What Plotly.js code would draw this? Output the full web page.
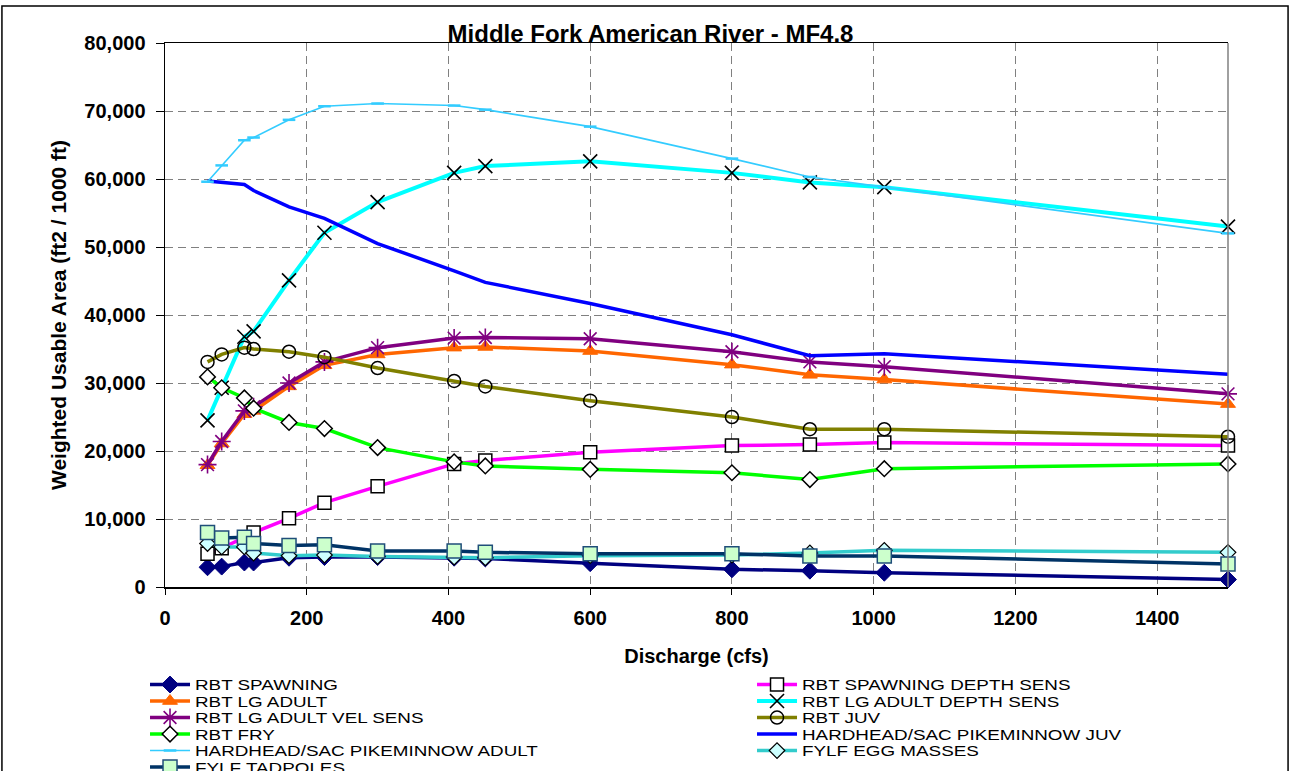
<!DOCTYPE html>
<html><head><meta charset="utf-8">
<script src="https://cdn.plot.ly/plotly-3.0.1.min.js"></script>
<style>
html,body{margin:0;padding:0;background:#fff}
#chart{width:1292px;height:771px}
#chart .legendtext{transform:scaleX(1.3);transform-box:fill-box;transform-origin:0 50%;}
</style>
</head><body><div id="chart"></div>
<script>
// Discharge (cfs)
const discharge = [60, 80, 112, 125, 175, 225, 300, 408, 452, 600, 800, 910, 1015, 1500];

// Weighted Usable Area (ft2 / 1000 ft)
const rbtSpawning          = [2900, 3000, 3600, 3600, 4300, 4400, 4400, 4300, 4200, 3500, 2600, 2400, 2100, 1100];
const rbtSpawningDepthSens = [4900, 5700, 7300, 8000, 10100, 12400, 14800, 18100, 18600, 19800, 20800, 20950, 21250, 20800];
const rbtLgAdult           = [17900, 21100, 25400, 25900, 29500, 32600, 34200, 35200, 35300, 34700, 32700, 31200, 30500, 26900];
const rbtLgAdultDepthSens  = [24500, 29300, 36800, 37600, 45100, 52100, 56600, 60900, 61900, 62600, 60900, 59500, 58800, 53000];
const rbtLgAdultVelSens    = [18000, 21400, 25900, 26500, 30000, 33100, 35200, 36600, 36700, 36500, 34600, 33100, 32400, 28400];
const rbtJuv               = [33100, 34200, 35200, 35000, 34600, 33800, 32200, 30300, 29500, 27400, 25000, 23200, 23200, 22100];
const rbtFry               = [30900, 29300, 27800, 26300, 24200, 23300, 20500, 18400, 17800, 17300, 16800, 15800, 17400, 18100];
const hardheadJuv          = [59700, 59500, 59200, 58300, 55900, 54200, 50500, 46500, 44800, 41700, 37100, 34000, 34300, 31300];
const hardheadAdult        = [59600, 62000, 65700, 66100, 68700, 70700, 71100, 70800, 70200, 67700, 63000, 60300, 58800, 52000];
const fylfEggMasses        = [6400, 5900, 5900, 5000, 4600, 4700, 4500, 4400, 4300, 4600, 4700, 5000, 5400, 5100];
const fylfTadpoles         = [8000, 7200, 7300, 6400, 6100, 6200, 5300, 5300, 5100, 4900, 4900, 4550, 4550, 3400];

const seriesNames = [
  'RBT SPAWNING', 'RBT SPAWNING DEPTH SENS', 'RBT LG ADULT', 'RBT LG ADULT DEPTH SENS',
  'RBT LG ADULT VEL SENS', 'RBT JUV', 'RBT FRY', 'HARDHEAD/SAC PIKEMINNOW JUV',
  'HARDHEAD/SAC PIKEMINNOW ADULT', 'FYLF EGG MASSES', 'FYLF TADPOLES'
];
const seriesValues = [
  rbtSpawning, rbtSpawningDepthSens, rbtLgAdult, rbtLgAdultDepthSens,
  rbtLgAdultVelSens, rbtJuv, rbtFry, hardheadJuv, hardheadAdult, fylfEggMasses, fylfTadpoles
];

const styles = [
  {line: {color: '#000080', width: 3.5}, marker: {symbol: 'diamond', size: 13, color: '#000080', line: {color: '#000080', width: 1}}},
  {line: {color: '#FF00FF', width: 3.5}, marker: {symbol: 'square', size: 13, color: '#FFFFFF', line: {color: '#000000', width: 1.5}}},
  {line: {color: '#FF6600', width: 3.5}, marker: {symbol: 'triangle-up', size: 13, color: '#FF6600', line: {color: '#FF6600', width: 1}}},
  {line: {color: '#00FFFF', width: 4}, marker: {symbol: 'x-thin-open', size: 14, color: '#000000', line: {color: '#000000', width: 1.6}}},
  {line: {color: '#800080', width: 3.5}, marker: {symbol: 'asterisk-open', size: 15, color: '#800080', line: {color: '#800080', width: 1.6}}},
  {line: {color: '#808000', width: 3.5}, marker: {symbol: 'circle-open', size: 13, color: '#000000', line: {color: '#000000', width: 1.5}}},
  {line: {color: '#00FF00', width: 3.5}, marker: {symbol: 'diamond', size: 12, color: '#FFFFFF', line: {color: '#000000', width: 1.5}}},
  {line: {color: '#0000FF', width: 3.5}, mode: 'lines'},
  {line: {color: '#33CCFF', width: 1.6}, marker: {symbol: 'line-ew-open', size: 9, color: '#33CCFF', line: {color: '#33CCFF', width: 2.5}}},
  {line: {color: '#33CCCC', width: 3.5}, marker: {symbol: 'diamond', size: 12, color: '#CCFFFF', line: {color: '#000000', width: 1.2}}},
  {line: {color: '#003366', width: 3.5}, marker: {symbol: 'square', size: 14, color: '#CCFFCC', line: {color: '#1F4E79', width: 1.5}}}
];

const data = seriesNames.map((name, i) => Object.assign({
  type: 'scatter',
  mode: 'lines+markers',
  name: name,
  x: discharge,
  y: seriesValues[i],
  cliponaxis: false
}, styles[i]));

const FONT = 'Liberation Sans, Arial, sans-serif';
const layout = {
  width: 1292, height: 771,
  paper_bgcolor: '#FFFFFF', plot_bgcolor: '#FFFFFF',
  margin: {l: 165, r: 64, t: 43, b: 184, autoexpand: false},
  font: {family: FONT, color: '#000000'},
  title: {
    text: 'Middle Fork American River - MF4.8',
    font: {family: FONT, size: 24, weight: 'bold', color: '#000000'},
    xref: 'container', x: 0.5035, xanchor: 'center',
    yref: 'container', y: 0.9565, yanchor: 'middle'
  },
  xaxis: {
    range: [0, 1500], dtick: 200, tick0: 0,
    showgrid: true, gridcolor: '#808080', griddash: '8px,5px', gridwidth: 1,
    zeroline: false,
    showline: true, linecolor: '#000000', linewidth: 1.5, mirror: true,
    ticks: 'outside', ticklen: 6, tickcolor: '#000000', tickwidth: 1,
    ticklabelstandoff: 6,
    tickfont: {family: FONT, size: 20, weight: 'bold', color: '#000000'},
    title: {text: 'Discharge (cfs)', font: {family: FONT, size: 20, weight: 'bold'}, standoff: 21}
  },
  yaxis: {
    range: [0, 80000], dtick: 10000, tick0: 0, tickformat: ',d',
    showgrid: true, gridcolor: '#808080', griddash: '8px,5px', gridwidth: 1,
    zeroline: false,
    showline: true, linecolor: '#000000', linewidth: 1.5,
    ticks: 'outside', ticklen: 8, tickcolor: '#000000', tickwidth: 1,
    ticklabelstandoff: 6,
    tickfont: {family: FONT, size: 20, weight: 'bold', color: '#000000'},
    title: {text: 'Weighted Usable Area (ft2 / 1000 ft)', font: {family: FONT, size: 21, weight: 'bold'}, standoff: 12}
  },
  showlegend: true,
  legend: {
    orientation: 'h', traceorder: 'normal',
    xref: 'paper', yref: 'paper',
    x: -0.0188, xanchor: 'left', y: -0.150, yanchor: 'top',
    entrywidth: 552, entrywidthmode: 'pixels',
    itemwidth: 40,
    bgcolor: 'rgba(0,0,0,0)', borderwidth: 0,
    font: {family: FONT, size: 14.5, color: '#000000'}
  },
  shapes: [
    {type: 'line', xref: 'paper', yref: 'paper', x0: 1, x1: 1, y0: 0, y1: 1, line: {color: '#808080', width: 1.5}},
    {type: 'rect', xref: 'paper', yref: 'paper', x0: -0.1534, x1: 1.0565, y0: -0.5, y1: 1.0679, line: {color: '#000000', width: 1.5}, fillcolor: 'rgba(0,0,0,0)', layer: 'above'}
  ]
};

Plotly.newPlot('chart', data, layout, {staticPlot: true, displayModeBar: false}).then(function (gd) {
  try {
    const items = Array.from(gd.querySelectorAll('.legend .traces'));
    const pos = items.map(function (el) {
      const m = /translate\(\s*([-\d.e]+)[ ,]+([-\d.e]+)\s*\)/.exec(el.getAttribute('transform') || '');
      return m ? [parseFloat(m[1]), parseFloat(m[2])] : null;
    });
    if (pos.every(Boolean)) {
      const rows = Array.from(new Set(pos.map(function (p) { return p[1]; }))).sort(function (a, b) { return a - b; });
      if (rows.length > 1) {
        const pitch = rows[1] - rows[0];
        const target = 16.5;
        items.forEach(function (el, i) {
          const p = pos[i];
          const ny = rows[0] + (p[1] - rows[0]) * target / pitch;
          el.setAttribute('transform', 'translate(' + p[0] + ',' + ny + ')');
        });
      }
    }
  } catch (e) {}
});
</script>
</body></html>
